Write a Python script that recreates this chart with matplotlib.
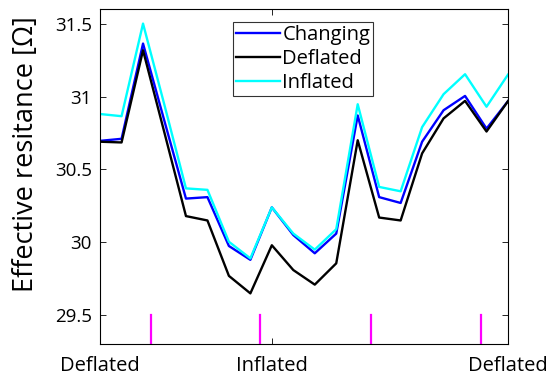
import matplotlib
matplotlib.use("Agg")
import matplotlib.pyplot as plt
import numpy as np

plt.rcParams['font.family'] = ['Open Sans', 'DejaVu Sans']

x = np.arange(20)
changing = [30.696, 30.71, 31.363, 30.83, 30.30, 30.31, 29.975, 29.88, 30.24, 30.05,
            29.925, 30.06, 30.87, 30.31, 30.27, 30.69, 30.906, 31.004, 30.78, 30.968]
deflated = [30.69, 30.685, 31.317, 30.75, 30.18, 30.15, 29.77, 29.65, 29.98, 29.81,
            29.71, 29.856, 30.70, 30.17, 30.15, 30.61, 30.85, 30.97, 30.76, 30.968]
inflated = [30.88, 30.865, 31.50, 30.94, 30.37, 30.36, 30.004, 29.89, 30.24, 30.06,
            29.95, 30.09, 30.947, 30.38, 30.35, 30.79, 31.016, 31.153, 30.93, 31.15]
markers_x = [2.375, 7.47, 12.6, 17.73]
xtick_pos = [0, 8, 19]
xtick_labels = ['Deflated', 'Inflated', 'Deflated']
yticks = [29.5, 30, 30.5, 31, 31.5]
ytick_labels = ['29.5', '30', '30.5', '31', '31.5']

fig = plt.figure(figsize=(5.53, 3.76), dpi=100)
ax = fig.add_axes([0.181, 0.084, 0.7376, 0.892])

ax.plot(x, changing, color='#0000ff', lw=1.7, label='Changing')
ax.plot(x, deflated, color='black', lw=1.7, label='Deflated')
ax.plot(x, inflated, color='#00ffff', lw=1.7, label='Inflated')

for mx in markers_x:
    ax.plot([mx, mx], [29.3, 29.5], color='#ff00ff', lw=1.6)

ax.set_xlim(0, 19)
ax.set_ylim(29.3, 31.6)
ax.set_xticks(xtick_pos)
ax.set_xticklabels(xtick_labels, fontsize=14.5)
ax.set_yticks(yticks)
ax.set_yticklabels(ytick_labels, fontsize=13.5)
ax.tick_params(direction='in', length=4, width=0.6, top=True, right=True, pad=6)
ax.tick_params(axis='x', pad=8)
for s in ax.spines.values():
    s.set_linewidth(0.8)
ax.set_ylabel('Effective resitance [Ω]', fontsize=19.5)
ax.yaxis.set_label_coords(-0.148, 0.568)

leg = ax.legend(loc='upper left', bbox_to_anchor=(0.326, 0.962), fontsize=14.5,
                frameon=True, fancybox=False, edgecolor='black', handlelength=2.2,
                handletextpad=0.1, borderpad=0.15, labelspacing=0.2, borderaxespad=0)
leg.get_frame().set_linewidth(0.8)

fig.savefig('out.png', dpi=100)
